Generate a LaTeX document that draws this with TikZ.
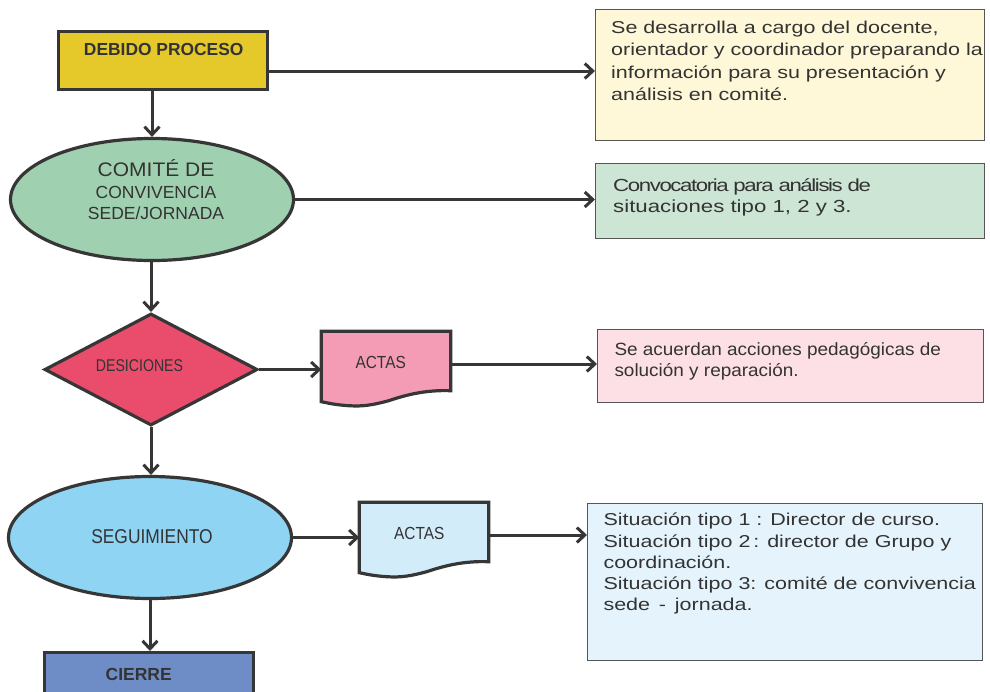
\documentclass[tikz,border=0pt]{standalone}
\usepackage{fontspec}
\setmainfont{Liberation Sans}
\newfontfamily\fN{Liberation Sans}
\newfontfamily\fC[FakeStretch=0.87]{Liberation Sans}
\newfontfamily\fCC[FakeStretch=0.83]{Liberation Sans}
\newfontfamily\fA[FakeStretch=0.88]{Liberation Sans}
\newfontfamily\fW[FakeStretch=1.25]{Liberation Sans}
\newfontfamily\fWb[FakeStretch=1.27]{Liberation Sans}
\newfontfamily\fWc[FakeStretch=1.07]{Liberation Sans}
\usetikzlibrary{arrows.meta,shapes.geometric}
\definecolor{linec}{HTML}{363636}
\definecolor{txt}{HTML}{333333}
\definecolor{boxc}{HTML}{555555}
\definecolor{cdeb}{HTML}{E5C92B}
\definecolor{ccom}{HTML}{9FD0AF}
\definecolor{cdec}{HTML}{EA4D6C}
\definecolor{cact1}{HTML}{F49CB5}
\definecolor{cseg}{HTML}{8FD4F3}
\definecolor{cact2}{HTML}{D3ECF9}
\definecolor{ccie}{HTML}{6E8DC6}
\definecolor{cb1}{HTML}{FEF8D8}
\definecolor{cb2}{HTML}{CCE5D5}
\definecolor{cb3}{HTML}{FDE0E6}
\definecolor{cb4}{HTML}{E5F4FC}
\newcommand\docpath[2]{%
  \draw[flow, fill=#2] (#1.north west) -- (#1.north east) -- (#1.south east)
    .. controls ([shift={(-27,-1)}]#1.south east) and ([shift={(-47,5)}]#1.south east) .. ([shift={(-62,10)}]#1.south east)
    .. controls ([shift={(-77,14)}]#1.south east) and ([shift={(-87,16)}]#1.south east) .. ([shift={(-102,15)}]#1.south east)
    .. controls ([shift={(-117,14)}]#1.south east) and ([shift={(-124,12)}]#1.south east) .. ([shift={(0,11)}]#1.south west)
    -- cycle;}
\begin{document}
\begin{tikzpicture}[x=1pt,y=-1pt,
  flow/.style={draw=linec, line width=3.2pt, inner sep=0pt},
  info/.style={rectangle, draw=boxc, line width=1.3pt, inner sep=0pt},
  conn/.style={draw=linec, line width=3pt, -{Straight Barb[length=8pt,width=15pt]}},
  lbl/.style={inner sep=0pt, anchor=base, text=txt},
  blk/.style={inner sep=0pt, anchor=base west, text=txt}]
\useasboundingbox (0,0) rectangle (990,691);
\clip (0,0) rectangle (990,691);
\fill[white] (0,0) rectangle (990,691);

% left flow shapes
\node[flow, rectangle, fill=cdeb, minimum width=209pt, minimum height=58pt] (deb) at (163,60.5) {};
\node[flow, ellipse, fill=ccom, minimum width=283pt, minimum height=122pt] (com) at (152,199.5) {};
\node[flow, diamond, fill=cdec, minimum width=213pt, minimum height=112pt] (dec) at (151,369.5) {};
\node[inner sep=0pt, rectangle, minimum width=129pt, minimum height=59pt] (act1) at (386,361) {};
\node[flow, ellipse, fill=cseg, minimum width=283pt, minimum height=122pt] (seg) at (150,537.5) {};
\node[inner sep=0pt, rectangle, minimum width=129pt, minimum height=59pt] (act2) at (424,532) {};
\node[flow, rectangle, fill=ccie, minimum width=209pt, minimum height=60pt] (cie) at (149,682.6) {};
\docpath{act1}{cact1}
\docpath{act2}{cact2}

% right info boxes
\node[info, fill=cb1, minimum width=388.8pt, minimum height=130.8pt] (b1) at (790,75) {};
\node[info, fill=cb2, minimum width=388.8pt, minimum height=74.8pt] (b2) at (790,201) {};
\node[info, fill=cb3, minimum width=385.7pt, minimum height=72.7pt] (b3) at (790.5,366) {};
\node[info, fill=cb4, minimum width=394.7pt, minimum height=156.7pt] (b4) at (785,582) {};

% connectors
\coordinate (y1) at (0,71);
\coordinate (y3) at (0,364);
\coordinate (y4) at (0,535);
\draw[conn] (deb.south -| com.north) -- (com.north);
\draw[conn] (com.south -| dec.north) -- (dec.north);
\draw[conn] (dec.south) -- (dec.south |- seg.north);
\draw[conn] (seg.south) -- (seg.south |- cie.north);
\draw[conn] (deb.east |- y1) -- (b1.west |- y1);
\draw[conn] (com.east) -- (com.east -| b2.west);
\draw[conn] (dec.east) -- (dec.east -| act1.west);
\draw[conn] (act1.east |- y3) -- (b3.west |- y3);
\draw[conn] (seg.east) -- (seg.east -| act2.west);
\draw[conn] (act2.east |- y4) -- (b4.west |- y4);

% labels of the flow shapes
\node[lbl, font={\fN\bfseries\fontsize{17.4}{20}\selectfont}] (tdeb) at (163.7,55.7) {DEBIDO PROCESO};
\node[lbl, font={\fWc\fontsize{19.6}{22}\selectfont}] (tcom1) at (156,176.7) {COMITÉ DE};
\node[lbl, font={\fN\fontsize{17.5}{20}\selectfont}] (tcom2) at (156,198.3) {CONVIVENCIA};
\node[lbl, font={\fN\fontsize{17.5}{20}\selectfont}] (tcom3) at (156,219.3) {SEDE/JORNADA};
\node[lbl, font={\fCC\fontsize{17}{20}\selectfont}] (tdec) at (139.5,371.7) {DESICIONES};
\node[lbl, font={\fA\fontsize{17.5}{20}\selectfont}] (tact1) at (380.7,368.3) {ACTAS};
\node[lbl, font={\fC\fontsize{20}{22}\selectfont}] (tseg) at (152,543.3) {SEGUIMIENTO};
\node[lbl, font={\fA\fontsize{17.5}{20}\selectfont}] (tact2) at (419.3,539.3) {ACTAS};
\node[lbl, font={\fN\bfseries\fontsize{17.5}{20}\selectfont}] (tcie) at (138.7,680) {CIERRE};

% texts of the info boxes
\node[blk, font={\fW\fontsize{17.2}{22.5}\selectfont}] (tb1) at (611,33) {\vtop{%
  \hbox{Se desarrolla a cargo del docente,}
  \hbox{orientador y coordinador preparando la}
  \hbox{información para su presentación y}
  \hbox{análisis en comité.}}};
\node[blk, font={\fWb\fontsize{17.5}{20.6}\selectfont}] (tb2) at (613,191.7) {\vtop{%
  \hbox{\addfontfeature{LetterSpace=-8}Convocatoria para análisis de}
  \hbox{situaciones tipo 1, 2 y 3.}}};
\node[blk, font={\fWc\fontsize{17.7}{21.7}\selectfont}] (tb3) at (614.3,355) {\vtop{%
  \hbox{Se acuerdan acciones pedagógicas de}
  \hbox{solución y reparación.}}};
\node[blk, font={\fW\fontsize{17.2}{21.3}\selectfont}] (tb4) at (603.3,525.7) {\vtop{%
  \hbox{Situación tipo 1 : Director de curso.}
  \hbox{Situación tipo 2\,: director de Grupo y}
  \hbox{coordinación.}
  \hbox{Situación tipo 3: comité de convivencia}
  \hbox{sede \,-\, jornada.}}};
\end{tikzpicture}
\end{document}
